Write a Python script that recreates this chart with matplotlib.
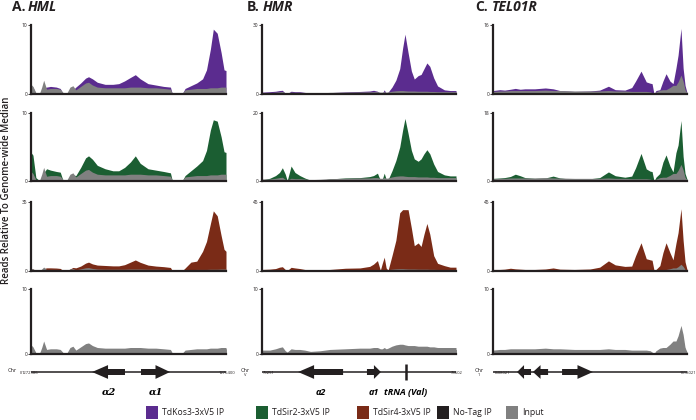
import matplotlib
matplotlib.use("Agg")
import matplotlib.pyplot as plt
from matplotlib.patches import FancyArrow, Rectangle

plt.rcParams['font.family'] = ['Open Sans', 'DejaVu Sans']

# ---------------- data ----------------
# positions: % along each locus window
hml_x = [0, 1, 2.5, 4.5, 5.5, 6.5, 8, 10, 13, 15, 16.5, 18.5, 20, 21.5, 23, 25.5, 28, 29.5, 31.5, 34,
         38, 42, 45, 48, 51, 53.5, 56, 60, 64, 68, 71.5, 72.5, 77.5, 79, 82, 85, 88, 90, 92, 93.5,
         95.5, 97.5, 99, 100]
hml_kos3 = [1.1, 1.0, 0.0, 0.0, 0.6, 0.9, 1.0, 1.1, 1.0, 0.8, 0.0, 0.0, 0.5, 0.6, 1.0, 1.6, 2.3, 2.5, 2.2, 1.7,
            1.4, 1.4, 1.5, 1.9, 2.4, 2.8, 2.2, 1.5, 1.3, 1.1, 1.0, 0.0, 0.0, 0.8, 1.2, 1.6, 2.2, 3.5, 6.5, 9.4,
            8.8, 6.0, 3.5, 3.4]
hml_sir2 = [4.2, 3.8, 0.5, 0.0, 0.5, 1.2, 1.8, 1.6, 1.4, 1.3, 0.0, 0.0, 0.7, 0.9, 0.8, 2.0, 3.4, 3.7, 3.2, 2.3,
            1.8, 1.5, 1.5, 2.0, 2.8, 3.7, 2.6, 1.8, 1.6, 1.4, 1.2, 0.0, 0.0, 0.8, 1.5, 2.2, 3.0, 4.5, 7.5, 9.0,
            8.8, 6.5, 4.3, 4.2]
hml_sir4 = [1.2, 1.0, 0.3, 0.2, 0.5, 1.2, 1.6, 1.6, 1.5, 1.3, 0.2, 0.2, 1.0, 1.8, 1.6, 2.5, 4.0, 4.5, 3.6, 3.0,
            2.8, 2.6, 2.6, 3.2, 4.5, 5.6, 4.4, 3.0, 2.5, 2.2, 1.8, 0.1, 0.1, 1.5, 4.5, 5.0, 10.0, 15.0, 24.0, 30.5,
            28.0, 18.0, 11.0, 10.0]
hml_notag = [1.0, 0.8, 0.1, 0.1, 0.6, 1.4, 0.5, 0.6, 0.6, 0.5, 0.1, 0.1, 0.7, 0.9, 0.4, 0.8, 1.2, 1.3, 1.0, 0.8,
             0.7, 0.7, 0.7, 0.7, 0.8, 0.8, 0.8, 0.7, 0.7, 0.6, 0.5, 0.1, 0.1, 0.4, 0.5, 0.6, 0.6, 0.6, 0.7, 0.7,
             0.7, 0.8, 0.8, 0.8]
hml_input = [1.4, 1.1, 0.2, 0.2, 1.0, 2.0, 0.7, 0.8, 0.8, 0.7, 0.2, 0.2, 1.0, 1.2, 0.6, 1.1, 1.6, 1.7, 1.3, 1.0,
             0.9, 0.9, 0.9, 0.9, 1.0, 1.0, 1.0, 0.9, 0.9, 0.8, 0.7, 0.1, 0.1, 0.6, 0.7, 0.8, 0.8, 0.8, 0.9, 0.9,
             0.9, 1.0, 1.0, 1.0]

hmr_x = [0, 4, 7, 9, 10.5, 12, 13, 15, 17, 19.5, 22, 25, 30, 35, 43, 50.5, 55.5, 57.5, 59.5, 61, 62,
         63, 64, 65, 67, 69, 71, 72.5, 73.7, 75.3, 77, 78.5, 80.5, 82, 83.5, 85, 86.5, 88.5, 90.5, 94, 97, 100]
hmr_kos3 = [0.8, 1.0, 1.2, 1.5, 1.6, 0.3, 0.2, 1.2, 1.0, 1.0, 0.7, 0.4, 0.3, 0.6, 0.9, 1.1, 1.3, 1.6, 1.2, 0.3, 0.2,
            1.8, 0.3, 0.8, 3.0, 6.0, 11.0, 20.0, 26.0, 18.0, 10.0, 6.5, 8.0, 8.5, 11.0, 13.5, 12.0, 7.0, 3.5, 1.8, 1.5, 1.5]
hmr_sir2 = [0.3, 0.8, 1.6, 2.5, 3.9, 2.0, 0.1, 4.4, 2.5, 1.6, 0.9, 0.2, 0.2, 0.6, 0.9, 1.0, 1.3, 1.6, 2.3, 0.2, 0.5,
            2.3, 0.5, 0.4, 3.0, 6.0, 10.0, 15.0, 18.4, 14.0, 9.0, 6.5, 5.8, 6.5, 8.0, 9.2, 8.0, 5.0, 2.8, 1.8, 1.5, 1.5]
hmr_sir4 = [1.0, 1.2, 1.6, 2.5, 2.8, 1.0, 0.3, 2.4, 2.0, 1.6, 1.0, 0.3, 0.4, 1.0, 1.8, 2.0, 3.0, 4.5, 6.8, 0.5, 5.0,
            9.0, 2.0, 0.5, 10.0, 20.0, 38.0, 40.0, 40.0, 40.0, 28.0, 16.5, 18.3, 16.0, 24.0, 31.0, 24.0, 10.0, 5.0, 3.5, 2.5, 2.5]
hmr_notag = [0.4, 0.4, 0.6, 0.7, 0.8, 0.3, 0.2, 0.6, 0.5, 0.5, 0.4, 0.3, 0.3, 0.5, 0.6, 0.6, 0.6, 0.7, 0.7, 0.5, 0.5,
             0.7, 0.5, 0.6, 0.8, 1.0, 1.1, 1.1, 1.0, 0.9, 0.9, 0.9, 0.8, 0.8, 0.8, 0.8, 0.8, 0.8, 0.7, 0.7, 0.7, 0.7]
hmr_input = [0.6, 0.6, 0.8, 1.0, 1.1, 0.5, 0.3, 0.8, 0.7, 0.7, 0.6, 0.4, 0.5, 0.7, 0.8, 0.9, 0.9, 1.0, 1.0, 0.8, 0.8,
             1.0, 0.8, 0.9, 1.2, 1.4, 1.5, 1.5, 1.4, 1.3, 1.3, 1.3, 1.2, 1.2, 1.2, 1.2, 1.1, 1.1, 1.0, 1.0, 1.0, 1.0]

tel_x = [0, 3.5, 6, 9, 11.5, 14, 16.5, 21.5, 27, 31, 34.5, 42, 50, 55, 59.5, 63, 68, 71.5, 73.5, 76.3,
         79, 81, 82, 83, 84, 86, 87.6, 89.2, 91.2, 92.8, 94.3, 95.4, 96.9, 98, 99, 100]
tel_kos3 = [0.8, 1.0, 0.9, 1.1, 1.3, 1.1, 1.2, 1.2, 1.4, 1.2, 0.8, 0.6, 0.7, 0.9, 1.8, 1.0, 0.9, 1.5, 3.0, 5.3,
            2.8, 2.5, 2.4, 0.0, 0.8, 1.0, 3.0, 4.7, 3.0, 2.4, 6.0, 9.0, 15.2, 6.0, 2.0, 0.3]
tel_sir2 = [0.7, 0.8, 0.9, 1.2, 1.8, 1.4, 0.9, 0.7, 0.8, 1.3, 0.8, 0.4, 0.6, 0.9, 2.4, 1.4, 1.0, 1.3, 3.5, 7.3,
            3.2, 2.6, 2.5, 0.0, 1.0, 2.0, 5.0, 6.9, 4.0, 2.4, 7.5, 9.5, 16.0, 6.5, 2.0, 0.5]
tel_sir4 = [1.0, 1.0, 1.2, 1.8, 1.4, 1.2, 1.0, 1.0, 1.3, 2.0, 1.2, 1.0, 1.3, 2.5, 6.6, 4.0, 3.0, 3.2, 10.0, 18.4,
            8.0, 7.3, 7.0, 0.5, 1.0, 3.5, 12.0, 18.4, 12.0, 7.3, 18.0, 25.0, 40.6, 20.0, 6.0, 1.0]
tel_notag = [0.4, 0.5, 0.5, 0.6, 0.6, 0.6, 0.6, 0.6, 0.6, 0.6, 0.6, 0.5, 0.5, 0.5, 0.6, 0.5, 0.5, 0.4, 0.4, 0.4,
             0.4, 0.4, 0.2, 0.0, 0.4, 0.6, 0.7, 0.7, 1.0, 1.4, 1.4, 2.0, 3.0, 2.0, 0.7, 0.2]
tel_input = [0.6, 0.7, 0.7, 0.8, 0.8, 0.8, 0.8, 0.8, 0.9, 0.8, 0.8, 0.7, 0.7, 0.7, 0.8, 0.7, 0.7, 0.6, 0.6, 0.6,
             0.6, 0.5, 0.3, 0.0, 0.5, 0.9, 1.0, 1.0, 1.5, 2.0, 2.0, 2.8, 4.4, 3.0, 1.0, 0.3]

# y-axis maxima (per locus, per row)
hml_ymax = [10, 10, 35, 10]
hmr_ymax = [30, 20, 45, 10]
tel_ymax = [16, 18, 45, 10]

# genes: (start %, end %, strand, label)
hml_genes = [(31.3, 48.2, -1, "α2"), (56.4, 71.3, 1, "α1")]
hmr_genes = [(18.6, 41.8, -1, "a2"), (54.1, 61.3, 1, "a1")]
hmr_trna = [(74.2, "tRNA (Val)")]
tel_genes = [(12.4, 19.6, -1, ""), (20.6, 28.4, -1, ""), (35.6, 51.5, 1, "")]

panel_letters = ["A.", "B.", "C."]
locus_names = ["HML", "HMR", "TEL01R"]
chrom_names = ["III", "V", "1"]
coord_left = ["1272386", "79251", "1408021"]
coord_right = ["1276400", "73602", "1418021"]

series_names = ["TdKos3-3xV5 IP", "TdSir2-3xV5 IP", "TdSir4-3xV5 IP", "No-Tag IP", "Input"]
series_colors = ["#5b2c8f", "#1b5e32", "#7a2b17", "#231f20", "#808080"]
ylabel = "Reads Relative To Genome-wide Median"

# ---------------- figure ----------------
W, H = 696, 420
fig = plt.figure(figsize=(W / 100, H / 100), dpi=100)


def px_axes(x0, y0, x1, y1):
    return fig.add_axes([x0 / W, 1 - y1 / H, (x1 - x0) / W, (y1 - y0) / H])


def ftext(x, y, s, **kw):
    return fig.text(x / W, 1 - y / H, s, **kw)


cols = [(31, 226), (262, 456), (493, 687)]
rows = [(25, 94), (113, 181), (202, 271), (289, 354)]

loci = [
    (hml_x, [hml_kos3, hml_sir2, hml_sir4, hml_notag], hml_input, hml_ymax),
    (hmr_x, [hmr_kos3, hmr_sir2, hmr_sir4, hmr_notag], hmr_input, hmr_ymax),
    (tel_x, [tel_kos3, tel_sir2, tel_sir4, tel_notag], tel_input, tel_ymax),
]

for ci, (x, ips, inp, ymaxs) in enumerate(loci):
    x0, x1 = cols[ci]
    for ri in range(4):
        y0, y1 = rows[ri]
        ax = px_axes(x0, y0, x1, y1)
        ax.fill_between(x, ips[ri], color=series_colors[ri], lw=0)
        ax.fill_between(x, inp, color=series_colors[4], lw=0)
        ax.set_xlim(0, 100)
        ax.set_ylim(0, ymaxs[ri])
        ax.set_xticks([])
        ax.set_yticks([0, ymaxs[ri]])
        ax.set_yticklabels(["0", str(ymaxs[ri])])
        ax.tick_params(axis='y', length=2, width=0.6, pad=0.6, labelsize=3.5, colors='#231f20')
        for s in ["top", "right"]:
            ax.spines[s].set_visible(False)
        for s in ["left", "bottom"]:
            ax.spines[s].set_linewidth(1.6)
            ax.spines[s].set_color('#231f20')
        ax.patch.set_alpha(0)

    # gene track
    gax = px_axes(x0, 360, x1, 384)
    gax.set_xlim(0, 100)
    gax.set_ylim(-1, 1)
    gax.axis('off')
    gax.plot([0, 100], [0, 0], color='#231f20', lw=1.1, solid_capstyle='butt')
    genes = [hml_genes, hmr_genes, tel_genes][ci]
    width_px = x1 - x0
    for (s, e, strand, lab) in genes:
        L = e - s
        hl = min(16 / width_px * 100, 0.5 * L)
        if strand > 0:
            arr = FancyArrow(s, 0, L, 0, width=0.5, head_width=1.15, head_length=hl,
                             length_includes_head=True, color='#231f20', lw=0)
        else:
            arr = FancyArrow(e, 0, -L, 0, width=0.5, head_width=1.15, head_length=hl,
                             length_includes_head=True, color='#231f20', lw=0)
        gax.add_patch(arr)
        if lab:
            xc = x0 + (s + e) / 2 / 100 * width_px
            if ci == 0:
                ftext(xc, 395, lab, ha='center', va='baseline', fontsize=7,
                      family='DejaVu Serif', fontweight='bold', fontstyle='italic')
            else:
                ftext(xc, 395, lab, ha='center', va='baseline', fontsize=6.5,
                      fontweight='bold', fontstyle='italic')
    if ci == 1:
        for (p, lab) in hmr_trna:
            gax.plot([p, p], [-0.65, 0.65], color='#231f20', lw=1.8, solid_capstyle='butt')
            ftext(x0 + p / 100 * width_px, 395, lab, ha='center', va='baseline', fontsize=6.5,
                  fontweight='bold', fontstyle='italic')

# chromosome / coordinate labels
chr_x = [12, 245, 479]
for ci in range(3):
    x0, x1 = cols[ci]
    ftext(chr_x[ci], 370, "Chr", fontsize=4, ha='center', va='center', color='#231f20')
    if ci == 0:
        ftext(21, 373.5, chrom_names[ci], fontsize=3, ha='center', va='center', color='#231f20')
        ftext(30, 373.5, coord_left[ci], fontsize=3, ha='center', va='center', color='#231f20')
    else:
        ftext(chr_x[ci], 374.5, chrom_names[ci], fontsize=3, ha='center', va='center', color='#231f20')
        ftext(x0 + 1, 373.5, coord_left[ci], fontsize=3, ha='left', va='center', color='#231f20')
    ftext(x1 + 1, 373.5, coord_right[ci], fontsize=3, ha='center', va='center', color='#231f20')

# panel titles
title_x = [(12, 28), (247, 263), (475, 492)]
for ci in range(3):
    ftext(title_x[ci][0], 11, panel_letters[ci], fontsize=10, fontweight='bold',
          ha='left', va='baseline', color='#231f20')
    ftext(title_x[ci][1], 11, locus_names[ci], fontsize=10, fontweight='bold',
          fontstyle='italic', ha='left', va='baseline', color='#231f20')

# y label
ftext(7, 190, ylabel, rotation=90, ha='center', va='center', fontsize=7,
      fontweight='semibold', color='#231f20')

# legend
leg_sq = [146, 256, 357, 437, 506]
for name, col, xs in zip(series_names, series_colors, leg_sq):
    fig.add_artist(Rectangle((xs / W, 1 - 419 / H), 12 / W, 13 / H,
                             transform=fig.transFigure, color=col, lw=0))
    ftext(xs + 16, 412.5, name, fontsize=6.2, ha='left', va='center', color='#231f20')

fig.savefig("out.png", dpi=100)
